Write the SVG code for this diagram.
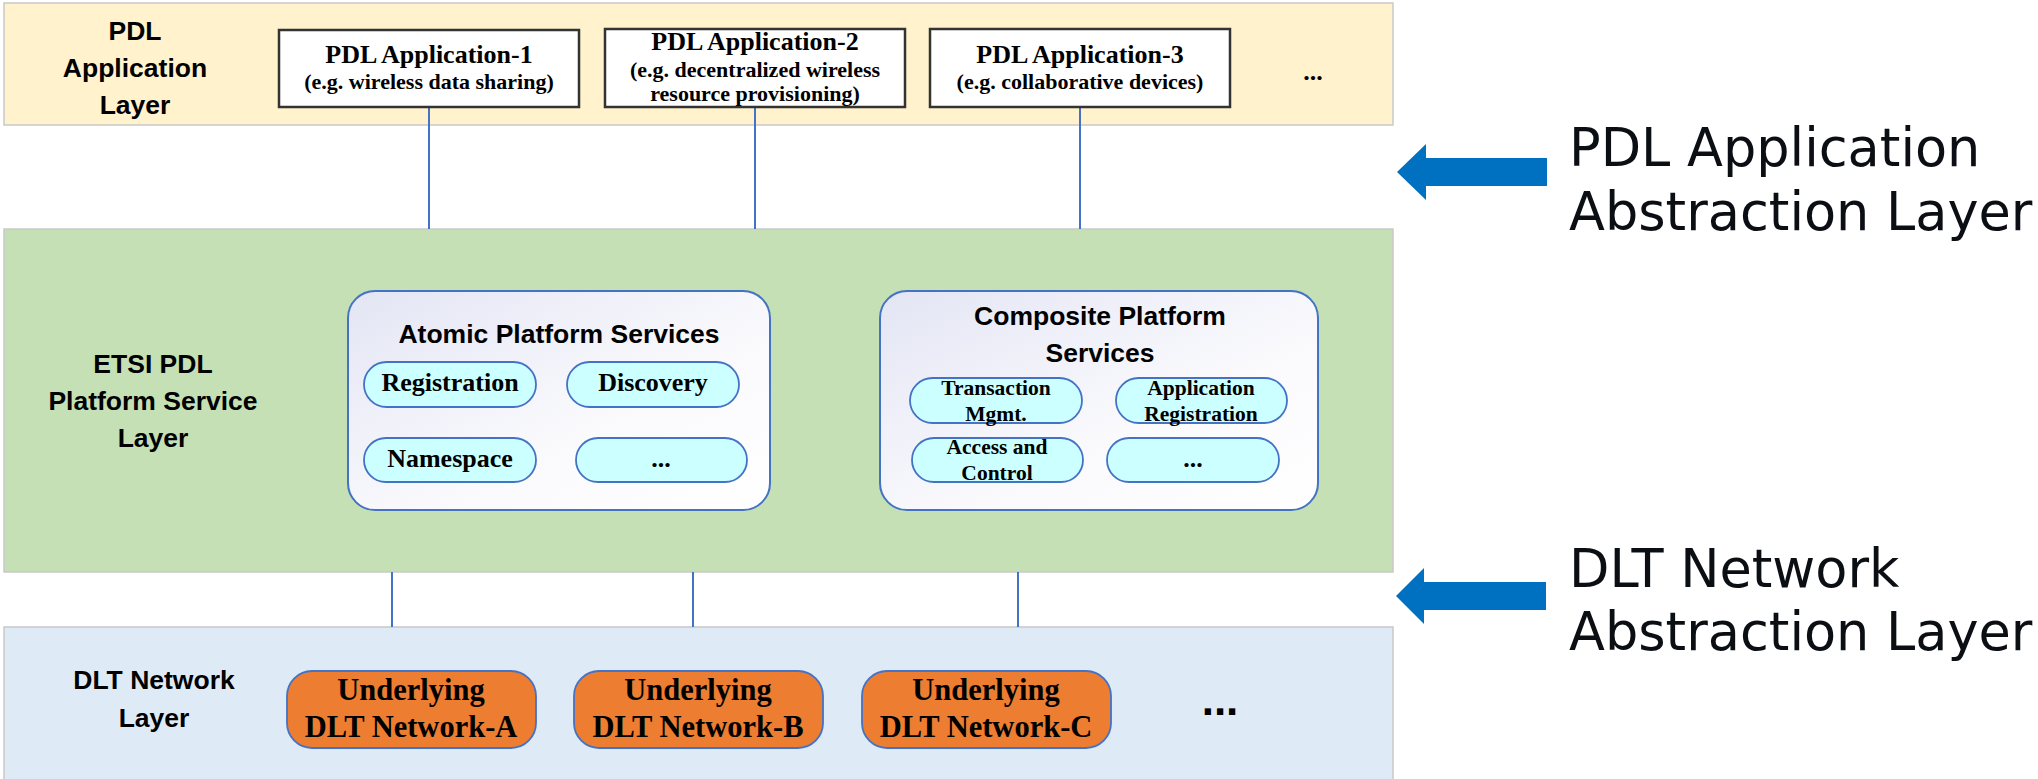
<svg xmlns="http://www.w3.org/2000/svg" width="2038" height="779" viewBox="0 0 2038 779">
<defs>
<linearGradient id="boxgrad" x1="0" y1="0" x2="1" y2="1">
<stop offset="0" stop-color="#E3E5F4"/>
<stop offset="0.6" stop-color="#FAFAFD"/>
<stop offset="1" stop-color="#FFFFFF"/>
</linearGradient>
<style>
.band{stroke:#C9C9C9;stroke-width:1.5}
.lbl{font-family:"Liberation Sans",Arial,sans-serif;font-weight:bold;font-size:26.5px;fill:#000;text-anchor:middle}
.app{fill:#FFFFFF;stroke:#333333;stroke-width:2.5}
.ser{font-family:"Liberation Serif","Times New Roman",serif;font-weight:bold;fill:#000;text-anchor:middle}
.grp{fill:url(#boxgrad);stroke:#4472C4;stroke-width:2}
.pill{fill:#CCFFFF;stroke:#4472C4;stroke-width:1.8}
.dlt{fill:#ED7D31;stroke:#4472C4;stroke-width:1.8}
.conn{stroke:#4472C4;stroke-width:2;fill:none}
.arrow{fill:#0070C0}
.side{font-family:"DejaVu Sans","Noto Sans",sans-serif;font-size:52.5px;fill:#0B0F14}
</style>
</defs>
<rect width="2038" height="779" fill="#FFFFFF"/>

<g id="layer-app">
<rect class="band" x="4" y="3" width="1389" height="122" fill="#FFF2CC"/>
<text class="lbl" x="135" y="40">PDL</text>
<text class="lbl" x="135" y="77">Application</text>
<text class="lbl" x="135" y="114">Layer</text>
</g>

<g id="layer-platform">
<rect class="band" x="4" y="229" width="1389" height="343" fill="#C5E0B4"/>
<text class="lbl" x="153" y="373">ETSI PDL</text>
<text class="lbl" x="153" y="410">Platform Service</text>
<text class="lbl" x="153" y="447">Layer</text>
</g>

<g id="layer-dlt">
<rect class="band" x="4" y="627" width="1389" height="160" fill="#DEEBF7"/>
<text class="lbl" x="154" y="689">DLT Network</text>
<text class="lbl" x="154" y="727">Layer</text>
</g>

<g id="connectors">
<line class="conn" x1="429" y1="107" x2="429" y2="229"/>
<line class="conn" x1="755" y1="107" x2="755" y2="229"/>
<line class="conn" x1="1080" y1="107" x2="1080" y2="229"/>
<line class="conn" x1="392" y1="572" x2="392" y2="627"/>
<line class="conn" x1="693" y1="572" x2="693" y2="627"/>
<line class="conn" x1="1018" y1="572" x2="1018" y2="627"/>
</g>

<g id="app-1">
<rect class="app" x="279" y="30" width="300" height="77"/>
<text class="ser" x="429" y="63" font-size="26">PDL Application-1</text>
<text class="ser" x="429" y="89" font-size="22">(e.g. wireless data sharing)</text>
</g>
<g id="app-2">
<rect class="app" x="605" y="29" width="300" height="78"/>
<text class="ser" x="755" y="50" font-size="26">PDL Application-2</text>
<text class="ser" x="755" y="77" font-size="22">(e.g. decentralized wireless</text>
<text class="ser" x="755" y="101" font-size="22">resource provisioning)</text>
</g>
<g id="app-3">
<rect class="app" x="930" y="29" width="300" height="78"/>
<text class="ser" x="1080" y="63" font-size="26">PDL Application-3</text>
<text class="ser" x="1080" y="89" font-size="22">(e.g. collaborative devices)</text>
</g>
<g id="app-more">
<text class="ser" x="1313" y="80" font-size="26">...</text>
</g>

<g id="atomic">
<rect class="grp" x="348" y="291" width="422" height="219" rx="27" ry="27"/>
<text class="lbl" x="559" y="343">Atomic Platform Services</text>
</g>
<g id="registration">
<rect class="pill" x="364" y="362" width="172" height="45" rx="22.5"/>
<text class="ser" x="450" y="391" font-size="26">Registration</text>
</g>
<g id="discovery">
<rect class="pill" x="567" y="362" width="172" height="45" rx="22.5"/>
<text class="ser" x="653" y="391" font-size="26">Discovery</text>
</g>
<g id="namespace">
<rect class="pill" x="364" y="438" width="172" height="44" rx="22"/>
<text class="ser" x="450" y="467" font-size="26">Namespace</text>
</g>
<g id="atomic-more">
<rect class="pill" x="576" y="438" width="171" height="44" rx="22"/>
<text class="ser" x="661" y="467" font-size="26">...</text>
</g>

<g id="composite">
<rect class="grp" x="880" y="291" width="438" height="219" rx="27" ry="27"/>
<text class="lbl" x="1100" y="325">Composite Platform</text>
<text class="lbl" x="1100" y="362">Services</text>
</g>
<g id="transaction">
<rect class="pill" x="910" y="378" width="172" height="45" rx="22.5"/>
<text class="ser" x="996" y="395" font-size="21.5">Transaction</text>
<text class="ser" x="996" y="421" font-size="21.5">Mgmt.</text>
</g>
<g id="app-registration">
<rect class="pill" x="1116" y="378" width="171" height="45" rx="22.5"/>
<text class="ser" x="1201" y="395" font-size="21.5">Application</text>
<text class="ser" x="1201" y="421" font-size="21.5">Registration</text>
</g>
<g id="access">
<rect class="pill" x="912" y="438" width="171" height="44" rx="22"/>
<text class="ser" x="997" y="454" font-size="21.5">Access and</text>
<text class="ser" x="997" y="480" font-size="21.5">Control</text>
</g>
<g id="composite-more">
<rect class="pill" x="1107" y="438" width="172" height="44" rx="22"/>
<text class="ser" x="1193" y="467" font-size="26">...</text>
</g>

<g id="dlt-a">
<rect class="dlt" x="287" y="671" width="249" height="77" rx="25"/>
<text class="ser" x="411" y="700" font-size="30.5">Underlying</text>
<text class="ser" x="411" y="737" font-size="30.5">DLT Network-A</text>
</g>
<g id="dlt-b">
<rect class="dlt" x="574" y="671" width="249" height="77" rx="25"/>
<text class="ser" x="698" y="700" font-size="30.5">Underlying</text>
<text class="ser" x="698" y="737" font-size="30.5">DLT Network-B</text>
</g>
<g id="dlt-c">
<rect class="dlt" x="862" y="671" width="249" height="77" rx="25"/>
<text class="ser" x="986" y="700" font-size="30.5">Underlying</text>
<text class="ser" x="986" y="737" font-size="30.5">DLT Network-C</text>
</g>
<g id="dlt-more">
<text class="lbl" x="1220" y="715" style="font-size:44px">...</text>
</g>

<g id="app-abstraction">
<polygon class="arrow" points="1397,172 1426,144 1426,158 1547,158 1547,186 1426,186 1426,200"/>
<text class="side" x="1569" y="166">PDL Application</text>
<text class="side" x="1569" y="230">Abstraction Layer</text>
</g>
<g id="dlt-abstraction">
<polygon class="arrow" points="1396,596 1424,568 1424,582 1546,582 1546,610 1424,610 1424,624"/>
<text class="side" x="1569" y="587">DLT Network</text>
<text class="side" x="1569" y="650">Abstraction Layer</text>
</g>
</svg>
